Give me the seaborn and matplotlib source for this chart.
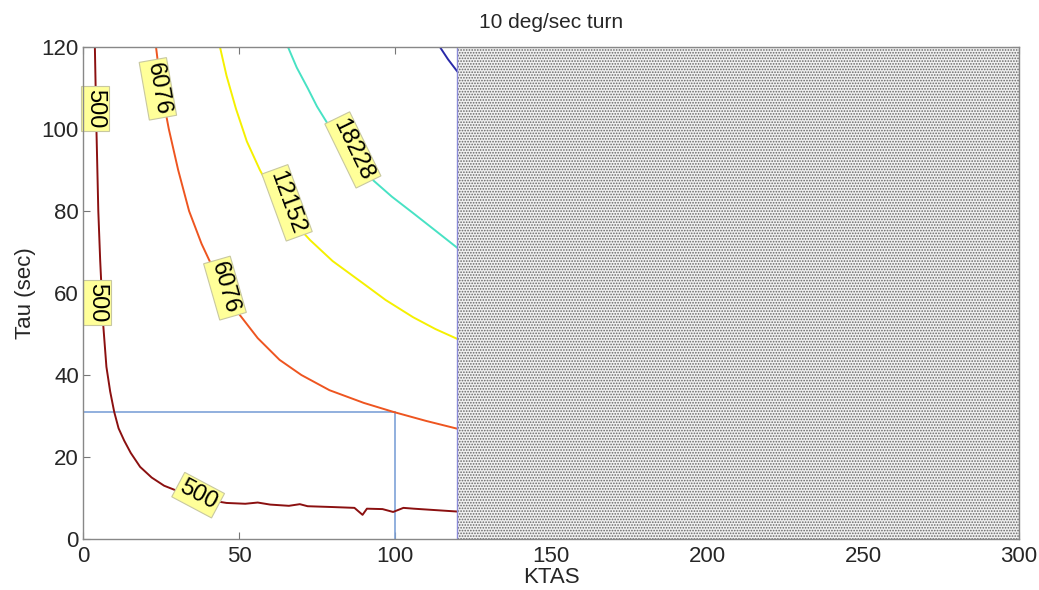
import numpy as np
import pandas as pd
import matplotlib
matplotlib.use("Agg")
import matplotlib.pyplot as plt
import seaborn as sns

# ---- contour lines (KTAS, Tau) ----
c500_x = [3.8, 4.3, 4.9, 5.5, 6.5, 7.5, 8.7, 10.0, 11.4, 13.2, 15.3, 18.3, 22.0, 26.0, 30.0,
          36.0, 42.0, 46.0, 52.0, 56.0, 60.0, 66.0, 69.5, 72.0, 80.0, 87.0, 89.6, 91.0,
          96.0, 99.4, 102.7, 106.0, 112.0, 120.0]
c500_y = [120.0, 100.0, 80.0, 68.0, 52.0, 42.0, 36.0, 31.0, 27.0, 24.0, 21.0, 17.6, 15.0,
          13.0, 11.8, 10.2, 9.3, 8.8, 8.6, 8.9, 8.4, 8.1, 8.5, 8.0, 7.8, 7.6, 5.9, 7.4,
          7.3, 6.6, 7.6, 7.4, 7.1, 6.7]

c6076_x = [23.4, 25.0, 27.5, 30.5, 34.0, 38.0, 42.0, 46.0, 50.3, 56.0, 63.0, 70.0, 79.0,
           90.0, 99.5, 110.0, 120.0]
c6076_y = [120.0, 110.0, 100.0, 90.0, 80.0, 72.0, 65.5, 60.0, 54.6, 49.0, 43.7, 40.0, 36.3,
           33.2, 31.0, 28.8, 26.9]

c12152_x = [43.9, 46.0, 49.0, 52.5, 56.7, 61.0, 66.0, 72.8, 80.0, 89.7, 97.0, 105.8, 113.0,
            120.0]
c12152_y = [120.0, 113.0, 105.0, 97.0, 90.0, 84.0, 78.5, 72.9, 67.8, 62.4, 58.3, 54.1, 51.2,
            48.8]

c18228_x = [65.7, 68.5, 72.0, 75.0, 78.0, 82.0, 87.0, 93.0, 99.0, 105.8, 113.0, 120.0]
c18228_y = [120.0, 115.0, 110.0, 105.5, 101.8, 97.0, 92.3, 87.5, 83.5, 79.5, 75.2, 71.0]

c24304_x = [114.4, 117.0, 120.0]
c24304_y = [120.0, 117.0, 114.0]

levels = ["500", "6076", "12152", "18228", "24304"]
level_colors = ["#8b1010", "#ee5520", "#f5f000", "#48e2c4", "#2828a8"]

# contour label positions / angles
label_text = ["500", "500", "500", "6076", "6076", "12152", "18228"]
label_x = [3.8, 4.5, 36.9, 24.0, 45.5, 65.4, 86.5]
label_y = [105.0, 57.6, 10.7, 109.8, 61.2, 82.0, 94.9]
label_rot = [-90, -90, -28, -80, -74, -70, -64]

# operating point marked by the blue guide lines
op_ktas = 100
op_tau = 31

rows = []
for lev, xs, ys in zip(levels, [c500_x, c6076_x, c12152_x, c18228_x, c24304_x],
                       [c500_y, c6076_y, c12152_y, c18228_y, c24304_y]):
    for i, (xv, yv) in enumerate(zip(xs, ys)):
        rows.append({"level": lev, "order": i, "KTAS": xv, "Tau": yv})
df = pd.DataFrame(rows)

sns.set_style("ticks")
plt.rcParams["font.family"] = ["Liberation Sans", "DejaVu Sans"]
plt.rcParams["hatch.linewidth"] = 0.8

fig = plt.figure(figsize=(10.39, 5.90), dpi=100)
ax = fig.add_axes([0.0799, 0.0864, 0.9008, 0.8339])

sns.lineplot(data=df, x="KTAS", y="Tau", hue="level", hue_order=levels,
             palette=level_colors, sort=False, estimator=None, units="level",
             linewidth=1.4, legend=False, ax=ax, zorder=3)

# guide lines
ax.plot([0, op_ktas], [op_tau, op_tau], color="#7ea2d8", lw=1.2, zorder=2)
ax.plot([op_ktas, op_ktas], [0, op_tau], color="#7ea2d8", lw=1.2, zorder=2)

# hatched region beyond the data
ax.axvspan(120, 300, facecolor="#f0f0f0", edgecolor="#666666", hatch="." * 6,
           linewidth=0, zorder=4)
ax.axvline(120, color="#8a8ad8", lw=1.0, zorder=5)

for t, xv, yv, r in zip(label_text, label_x, label_y, label_rot):
    ax.text(xv, yv, t, rotation=r, rotation_mode="anchor", ha="center", va="center",
            fontsize=17, color="black", zorder=6,
            bbox=dict(boxstyle="square,pad=0.12", facecolor="#ffff99",
                      edgecolor="#c8c8a0", linewidth=0.8))

ax.set_xlim(0, 300)
ax.set_ylim(0, 120)
ax.set_xticks([0, 50, 100, 150, 200, 250, 300])
ax.set_yticks([0, 20, 40, 60, 80, 100, 120])
ax.tick_params(direction="in", top=True, right=True, labelsize=16, color="#777777",
               length=5, pad=3)
ax.tick_params(axis="x", pad=5)
for s in ax.spines.values():
    s.set_color("#888888")
    s.set_linewidth(1.0)
    s.set_zorder(7)

ax.set_xlabel("KTAS", fontsize=16, labelpad=0)
ax.set_ylabel("Tau (sec)", fontsize=16, labelpad=4)
ax.set_title("10 deg/sec turn", fontsize=15, pad=14)

fig.savefig("out.png", dpi=100)
